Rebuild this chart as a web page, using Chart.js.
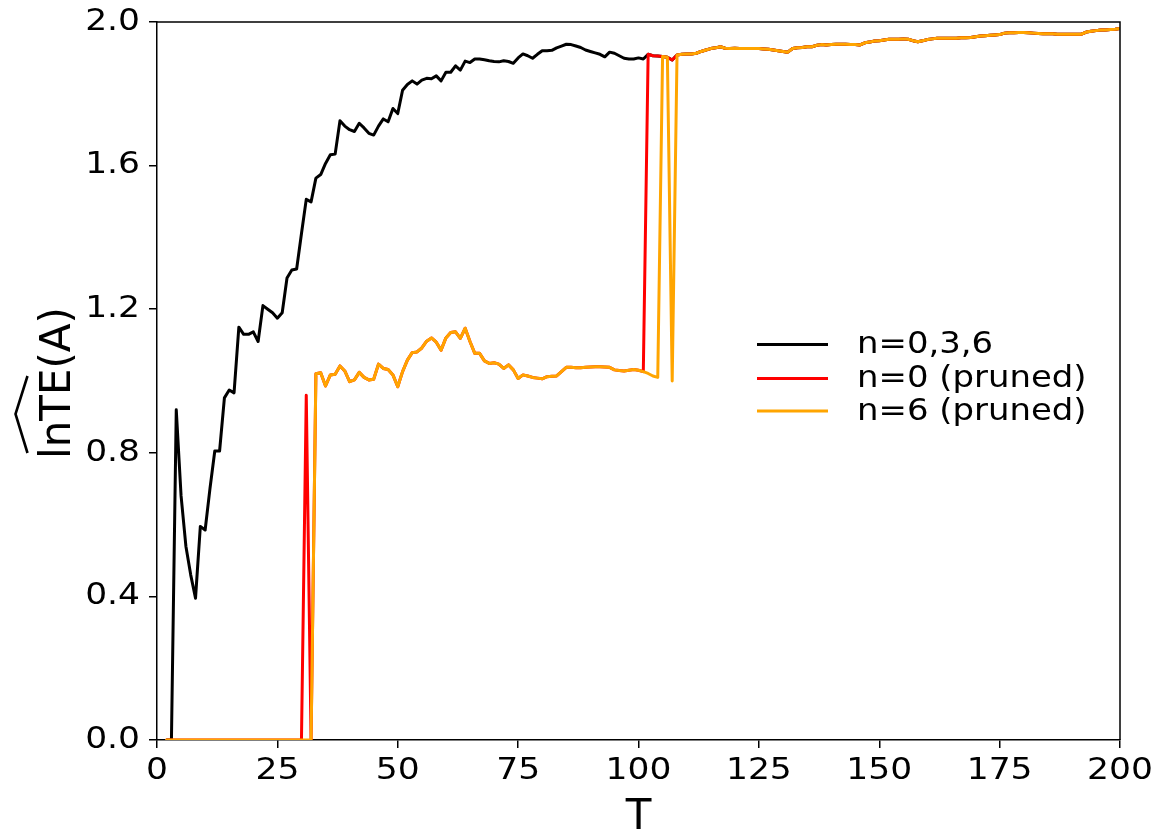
<!DOCTYPE html>
<html>
<head>
<meta charset="utf-8">
<script src="https://cdn.jsdelivr.net/npm/chart.js@4.4.1/dist/chart.umd.min.js"></script>
<style>
  html, body { margin: 0; padding: 0; background: #ffffff; }
  #wrap { width: 1159px; height: 833px; position: relative; }
</style>
</head>
<body>
<div id="wrap"><canvas id="c" width="1159" height="833"></canvas></div>
<script>
// ---------------- data ----------------
const T_FIRST = 2;                       // first time step shown
const SERIES_LABELS = ['n=0,3,6', 'n=0 (pruned)', 'n=6 (pruned)'];
const X_TICKS = [0, 25, 50, 75, 100, 125, 150, 175, 200];
const Y_TICKS = ['0.0', '0.4', '0.8', '1.2', '1.6', '2.0'];
const X_TITLE = 'T';
const Y_TITLE = 'lnTE(A)';

// n=0,3,6  (T = 2 ... 200)
const blackVals = [
  0, 0, 0.92, 0.68, 0.54, 0.46, 0.395, 0.595, 0.585, 0.70,
  0.805, 0.805, 0.953, 0.975, 0.967, 1.15, 1.13, 1.13, 1.137, 1.11,
  1.21, 1.20, 1.19, 1.175, 1.19, 1.287, 1.309, 1.312, 1.41, 1.506,
  1.499, 1.565, 1.575, 1.606, 1.63, 1.632, 1.725, 1.71, 1.70, 1.695,
  1.718, 1.705, 1.69, 1.685, 1.71, 1.73, 1.722, 1.759, 1.745, 1.81,
  1.826, 1.836, 1.827, 1.838, 1.843, 1.842, 1.85, 1.836, 1.86, 1.86,
  1.878, 1.866, 1.891, 1.887, 1.897, 1.897, 1.895, 1.892, 1.89, 1.889,
  1.892, 1.89, 1.885, 1.90, 1.911, 1.906, 1.899, 1.91, 1.92, 1.92,
  1.921, 1.928, 1.933, 1.938, 1.937, 1.933, 1.929, 1.922, 1.918, 1.914,
  1.91, 1.903, 1.916, 1.913, 1.906, 1.899, 1.897, 1.897, 1.90, 1.897,
  1.91, 1.906, 1.905, 1.904, 1.902, 1.894, 1.908, 1.91, 1.911, 1.911,
  1.913, 1.918, 1.922, 1.926, 1.928, 1.931, 1.927, 1.926, 1.927, 1.926,
  1.926, 1.926, 1.926, 1.926, 1.925, 1.924, 1.922, 1.92, 1.918, 1.916,
  1.926, 1.928, 1.929, 1.931, 1.931, 1.935, 1.937, 1.936, 1.937, 1.938,
  1.938, 1.938, 1.937, 1.937, 1.936, 1.942, 1.944, 1.947, 1.948, 1.95,
  1.952, 1.952, 1.952, 1.953, 1.952, 1.948, 1.945, 1.948, 1.951, 1.953,
  1.955, 1.955, 1.955, 1.955, 1.955, 1.956, 1.956, 1.957, 1.959, 1.961,
  1.962, 1.963, 1.964, 1.965, 1.969, 1.97, 1.97, 1.971, 1.971, 1.97,
  1.969, 1.968, 1.967, 1.967, 1.967, 1.966, 1.966, 1.966, 1.966, 1.966,
  1.966, 1.972, 1.974, 1.976, 1.978, 1.978, 1.979, 1.98, 1.982
];

// n=0 (pruned)  (T = 2 ... 200)
const redVals = [
  0, 0, 0, 0, 0, 0, 0, 0, 0, 0,
  0, 0, 0, 0, 0, 0, 0, 0, 0, 0,
  0, 0, 0, 0, 0, 0, 0, 0, 0, 0.96,
  0, 1.02, 1.023, 0.986, 1.017, 1.019, 1.042, 1.028, 0.998, 1.003,
  1.024, 1.01, 1.003, 1.005, 1.047, 1.035, 1.032, 1.017, 0.984, 1.026,
  1.058, 1.079, 1.081, 1.092, 1.111, 1.12, 1.108, 1.086, 1.12, 1.135,
  1.137, 1.119, 1.147, 1.11, 1.077, 1.077, 1.056, 1.049, 1.051, 1.047,
  1.035, 1.045, 1.031, 1.007, 1.017, 1.014, 1.01, 1.008, 1.006, 1.012,
  1.013, 1.014, 1.026, 1.038, 1.038, 1.037, 1.037, 1.038, 1.039, 1.04,
  1.04, 1.039, 1.038, 1.031, 1.029, 1.028, 1.03, 1.032, 1.03, 1.026,
  1.91, 1.906, 1.905, 1.904, 1.902, 1.894, 1.908, 1.91, 1.911, 1.911,
  1.913, 1.918, 1.922, 1.926, 1.928, 1.931, 1.927, 1.926, 1.927, 1.926,
  1.926, 1.926, 1.926, 1.926, 1.925, 1.924, 1.922, 1.92, 1.918, 1.916,
  1.926, 1.928, 1.929, 1.931, 1.931, 1.935, 1.937, 1.936, 1.937, 1.938,
  1.938, 1.938, 1.937, 1.937, 1.936, 1.942, 1.944, 1.947, 1.948, 1.95,
  1.952, 1.952, 1.952, 1.953, 1.952, 1.948, 1.945, 1.948, 1.951, 1.953,
  1.955, 1.955, 1.955, 1.955, 1.955, 1.956, 1.956, 1.957, 1.959, 1.961,
  1.962, 1.963, 1.964, 1.965, 1.969, 1.97, 1.97, 1.971, 1.971, 1.97,
  1.969, 1.968, 1.967, 1.967, 1.967, 1.966, 1.966, 1.966, 1.966, 1.966,
  1.966, 1.972, 1.974, 1.976, 1.978, 1.978, 1.979, 1.98, 1.982
];

// n=6 (pruned)  (T = 2 ... 200)
const orangeVals = [
  0, 0, 0, 0, 0, 0, 0, 0, 0, 0,
  0, 0, 0, 0, 0, 0, 0, 0, 0, 0,
  0, 0, 0, 0, 0, 0, 0, 0, 0, 0,
  0, 1.02, 1.023, 0.986, 1.017, 1.019, 1.042, 1.028, 0.998, 1.003,
  1.024, 1.01, 1.003, 1.005, 1.047, 1.035, 1.032, 1.017, 0.984, 1.026,
  1.058, 1.079, 1.081, 1.092, 1.111, 1.12, 1.108, 1.086, 1.12, 1.135,
  1.137, 1.119, 1.147, 1.11, 1.077, 1.077, 1.056, 1.049, 1.051, 1.047,
  1.035, 1.045, 1.031, 1.007, 1.017, 1.014, 1.01, 1.008, 1.006, 1.012,
  1.013, 1.014, 1.026, 1.038, 1.038, 1.037, 1.037, 1.038, 1.039, 1.04,
  1.04, 1.039, 1.038, 1.031, 1.029, 1.028, 1.03, 1.032, 1.03, 1.026,
  1.021, 1.014, 1.01, 1.904, 1.902, 1.0, 1.908, 1.91, 1.911, 1.911,
  1.913, 1.918, 1.922, 1.926, 1.928, 1.931, 1.927, 1.926, 1.927, 1.926,
  1.926, 1.926, 1.926, 1.926, 1.925, 1.924, 1.922, 1.92, 1.918, 1.916,
  1.926, 1.928, 1.929, 1.931, 1.931, 1.935, 1.937, 1.936, 1.937, 1.938,
  1.938, 1.938, 1.937, 1.937, 1.936, 1.942, 1.944, 1.947, 1.948, 1.95,
  1.952, 1.952, 1.952, 1.953, 1.952, 1.948, 1.945, 1.948, 1.951, 1.953,
  1.955, 1.955, 1.955, 1.955, 1.955, 1.956, 1.956, 1.957, 1.959, 1.961,
  1.962, 1.963, 1.964, 1.965, 1.969, 1.97, 1.97, 1.971, 1.971, 1.97,
  1.969, 1.968, 1.967, 1.967, 1.967, 1.966, 1.966, 1.966, 1.966, 1.966,
  1.966, 1.972, 1.974, 1.976, 1.978, 1.978, 1.979, 1.98, 1.982
];

// time axis values (one per reading, consecutive steps)
const T = blackVals.map((_, i) => T_FIRST + i);

// ---------------- styling / layout ----------------
const COLORS = ['#000000', '#ff0000', '#ffa500'];
const FONT = '"DejaVu Sans", "Liberation Sans", sans-serif';
const AREA = { left: 157, top: 22, right: 1120, bottom: 740 };
const W = 1159, H = 833;

function toPoints(vals) { return vals.map((v, i) => ({ x: T[i], y: v })); }

// The reference's lettering is slightly wide: draw text with a small
// horizontal stretch around its anchor point.
let textStretch = 1;
const canvasEl = document.getElementById('c');
const ctx0 = canvasEl.getContext('2d');
const origFillText = ctx0.fillText.bind(ctx0);
ctx0.fillText = function (text, x, y, maxWidth) {
  if (textStretch === 1) { return origFillText(text, x, y); }
  ctx0.save();
  ctx0.translate(x, y);
  ctx0.scale(textStretch, 1);
  origFillText(text, 0, 0);
  ctx0.restore();
};

const extras = {
  id: 'extras',
  beforeDraw() { textStretch = 1.15; },
  afterDraw(chart) {
    const ctx = chart.ctx;
    const a = chart.chartArea;
    ctx.save();
    // top and right spines
    ctx.strokeStyle = '#000';
    ctx.lineWidth = 1.5;
    ctx.beginPath();
    ctx.moveTo(a.left, a.top);
    ctx.lineTo(a.right, a.top);
    ctx.lineTo(a.right, a.bottom);
    ctx.stroke();

    // legend
    const rows = [344.5, 378.5, 411];
    textStretch = 1.13;
    ctx.font = '30px ' + FONT;
    ctx.textAlign = 'left';
    ctx.textBaseline = 'middle';
    chart.data.datasets.forEach((ds, i) => {
      ctx.strokeStyle = ds.borderColor;
      ctx.lineWidth = 3;
      ctx.lineCap = 'butt';
      ctx.beginPath();
      ctx.moveTo(757, rows[i]);
      ctx.lineTo(828, rows[i]);
      ctx.stroke();
      ctx.fillStyle = '#000';
      ctx.fillText(ds.label, 857, rows[i] + 1);
    });

    // axis titles
    textStretch = 1;
    ctx.fillStyle = '#000';
    ctx.font = '42px ' + FONT;
    ctx.textAlign = 'center';
    ctx.textBaseline = 'alphabetic';
    ctx.fillText(X_TITLE, (a.left + a.right) / 2, 829);

    ctx.save();
    ctx.translate(70, 383);
    ctx.rotate(-Math.PI / 2);
    ctx.fillText(Y_TITLE, 0, 0);
    ctx.restore();

    // wide hat over the y title
    ctx.strokeStyle = '#000';
    ctx.lineWidth = 2.6;
    ctx.lineJoin = 'miter';
    ctx.beginPath();
    ctx.moveTo(27.5, 376);
    ctx.lineTo(15.5, 414);
    ctx.lineTo(27.5, 453);
    ctx.stroke();
    ctx.restore();
  }
};

function fixScale(scale) {
  scale.paddingLeft = 0; scale.paddingRight = 0;
  scale.paddingTop = 0; scale.paddingBottom = 0;
}

new Chart(canvasEl, {
  type: 'line',
  data: {
    datasets: [
      { label: SERIES_LABELS[0], data: toPoints(blackVals), borderColor: COLORS[0], order: 3 },
      { label: SERIES_LABELS[1], data: toPoints(redVals), borderColor: COLORS[1], order: 2 },
      { label: SERIES_LABELS[2], data: toPoints(orangeVals), borderColor: COLORS[2], order: 1 }
    ]
  },
  options: {
    responsive: false,
    animation: false,
    devicePixelRatio: 1,
    layout: { padding: { left: 0, top: AREA.top, right: W - AREA.right, bottom: 0 } },
    elements: {
      line: { borderWidth: 3, tension: 0, fill: false, borderJoinStyle: 'round', borderCapStyle: 'round' },
      point: { radius: 0, hoverRadius: 0 }
    },
    plugins: { legend: { display: false }, tooltip: { enabled: false } },
    scales: {
      x: {
        type: 'linear',
        min: X_TICKS[0],
        max: X_TICKS[X_TICKS.length - 1],
        afterBuildTicks(scale) { scale.ticks = X_TICKS.map(v => ({ value: v })); },
        afterFit(scale) { scale.height = H - AREA.bottom; fixScale(scale); },
        ticks: {
          autoSkip: false, maxRotation: 0, padding: 5, color: '#000',
          font: { family: FONT, size: 30 },
          callback: (v) => String(v)
        },
        grid: { drawOnChartArea: false, drawTicks: true, tickLength: 8, color: '#000', lineWidth: 1.5 },
        border: { display: true, color: '#000', width: 1.5 }
      },
      y: {
        type: 'linear',
        min: Number(Y_TICKS[0]),
        max: Number(Y_TICKS[Y_TICKS.length - 1]),
        afterBuildTicks(scale) { scale.ticks = Y_TICKS.map(v => ({ value: Number(v) })); },
        afterFit(scale) { scale.width = AREA.left; fixScale(scale); },
        ticks: {
          padding: 9, color: '#000',
          font: { family: FONT, size: 30 },
          callback: (v) => Number(v).toFixed(1)
        },
        grid: { drawOnChartArea: false, drawTicks: true, tickLength: 8, color: '#000', lineWidth: 1.5 },
        border: { display: true, color: '#000', width: 1.5 }
      }
    }
  },
  plugins: [extras]
});
</script>
</body>
</html>
